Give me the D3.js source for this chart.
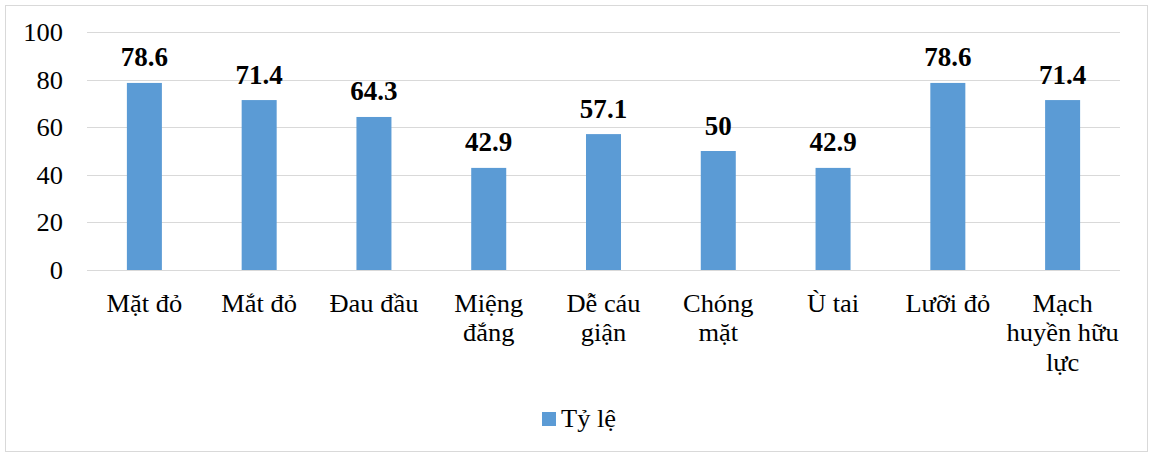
<!DOCTYPE html>
<html><head><meta charset="utf-8">
<script src="https://cdn.jsdelivr.net/npm/d3@7"></script>
<style>body{margin:0;background:#fff}svg{display:block}</style>
</head><body>
<svg id="c" width="1149" height="456" font-family="Liberation Serif"></svg>
<script>
const categories = ["Mặt đỏ","Mắt đỏ","Đau đầu","Miệng\nđắng","Dễ cáu\ngiận","Chóng\nmặt","Ù tai","Lưỡi đỏ","Mạch\nhuyền hữu\nlực"];
const values = [78.6,71.4,64.3,42.9,57.1,50,42.9,78.6,71.4];
const valueLabels = ["78.6","71.4","64.3","42.9","57.1","50","42.9","78.6","71.4"];
const yTicks = [0,20,40,60,80,100];
const seriesName = "Tỷ lệ";

const FONT = "Liberation Serif";
const FS = 24.5, SX = 1.08;
const svg = d3.select("#c");
svg.append("rect").attr("x",5.5).attr("y",5.5).attr("width",1142).attr("height",446)
  .attr("fill","#fff").attr("stroke","#d9d9d9").attr("stroke-width",1);

const L=87, R=1120, T=32, B=270;
const x = d3.scaleBand().domain(categories).range([L,R]).paddingInner(0.695).paddingOuter(0.3475);
const y = d3.scaleLinear().domain([0,100]).range([B,T]);

function label(g, tx, ty, txt, anchor, size, sx, weight){
  const t = g.append("text").attr("transform",`translate(${tx},${ty}) scale(${sx},1)`)
    .attr("text-anchor",anchor).attr("font-family",FONT).attr("font-size",size)
    .attr("fill","#000").text(txt);
  if (weight) t.attr("font-weight",weight);
  return t;
}

const grid = svg.append("g");
grid.selectAll("line").data(yTicks).join("line")
  .attr("x1",L).attr("x2",R).attr("y1",d=>Math.round(y(d))+0.5).attr("y2",d=>Math.round(y(d))+0.5)
  .attr("stroke","#d9d9d9").attr("stroke-width",1);

const yAxis = svg.append("g").attr("transform",`translate(${L},0)`)
  .call(d3.axisLeft(y).tickValues(yTicks).tickSize(0).tickFormat(""));
yAxis.attr("font-family",FONT).attr("font-size",FS);
yAxis.select(".domain").remove();
yAxis.selectAll(".tick text").remove();
yAxis.selectAll(".tick").each(function(d){
  label(d3.select(this), -24, 8.5, String(d), "end", FS, SX);
});

svg.append("g").selectAll("rect").data(values).join("rect")
  .attr("x",(d,i)=>x(categories[i])).attr("width",x.bandwidth())
  .attr("y",d=>y(d)).attr("height",d=>B-y(d)).attr("fill","#5b9bd5");

const vl = svg.append("g");
values.forEach((d,i)=>{
  label(vl, x(categories[i])+x.bandwidth()/2, y(d)-16.5, valueLabels[i], "middle", 26.5, 1.02, "bold");
});

const xAxis = svg.append("g").attr("transform",`translate(0,${B})`)
  .call(d3.axisBottom(x).tickSize(0).tickFormat(""));
xAxis.attr("font-family",FONT).attr("font-size",FS);
xAxis.select(".domain").remove();
xAxis.selectAll(".tick text").remove();
xAxis.selectAll(".tick").each(function(d){
  const g = d3.select(this);
  d.split("\n").forEach((ln,k)=>label(g, 0, 41.5+k*29.5, ln, "middle", FS, SX));
});

const lg = svg.append("g");
lg.append("rect").attr("x",542).attr("y",412).attr("width",14).attr("height",14).attr("fill","#5b9bd5");
label(lg, 561, 427, seriesName, "start", FS, SX);
</script>
</body></html>
